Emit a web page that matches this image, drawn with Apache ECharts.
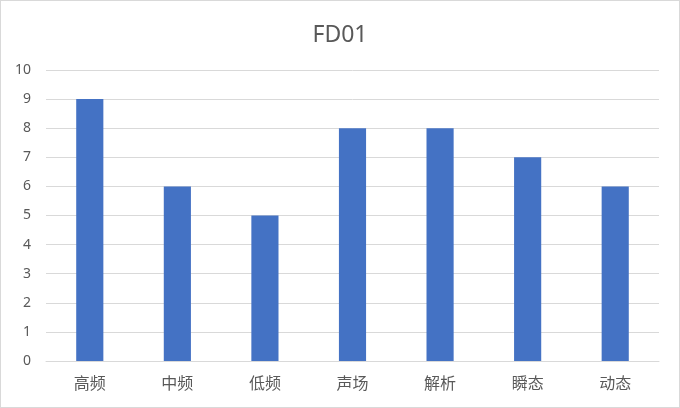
<!DOCTYPE html>
<html><head><meta charset="utf-8">
<script src="https://cdn.jsdelivr.net/npm/echarts@6/dist/echarts.min.js"></script>
<style>html,body{margin:0;padding:0;background:#fff}#c{width:680px;height:408px;box-sizing:border-box;border:1px solid #d9d9d9}</style>
</head><body><div id="c"></div>
<script>
const categories = ['高频','中频','低频','声场','解析','瞬态','动态'];
const values = [9,6,5,8,8,7,6];
const title = 'FD01';
const chart = echarts.init(document.getElementById('c'));
const font = '"Noto Sans CJK SC", "Noto Sans", sans-serif';
chart.setOption({
  animation:false,
  title:{text:title,left:'center',top:18,textStyle:{fontFamily:'"Noto Sans", sans-serif',fontSize:23,fontWeight:'normal',color:'#595959'}},
  grid:{left:45,right:20,top:69,bottom:46},
  xAxis:{type:'category',data:categories,
    axisLine:{lineStyle:{color:'#d9d9d9'}},axisTick:{show:false},
    axisLabel:{color:'#595959',fontSize:16,fontFamily:font,margin:14}},
  yAxis:{type:'value',min:0,max:10,interval:1,
    axisLine:{show:false},axisTick:{show:false},
    splitLine:{lineStyle:{color:'#d9d9d9'}},
    axisLabel:{color:'#595959',fontSize:14,fontFamily:'"Noto Sans", sans-serif',margin:15}},
  series:[{type:'bar',data:values,barWidth:'31%',itemStyle:{color:'#4472C4'}}]
});
</script></body></html>
